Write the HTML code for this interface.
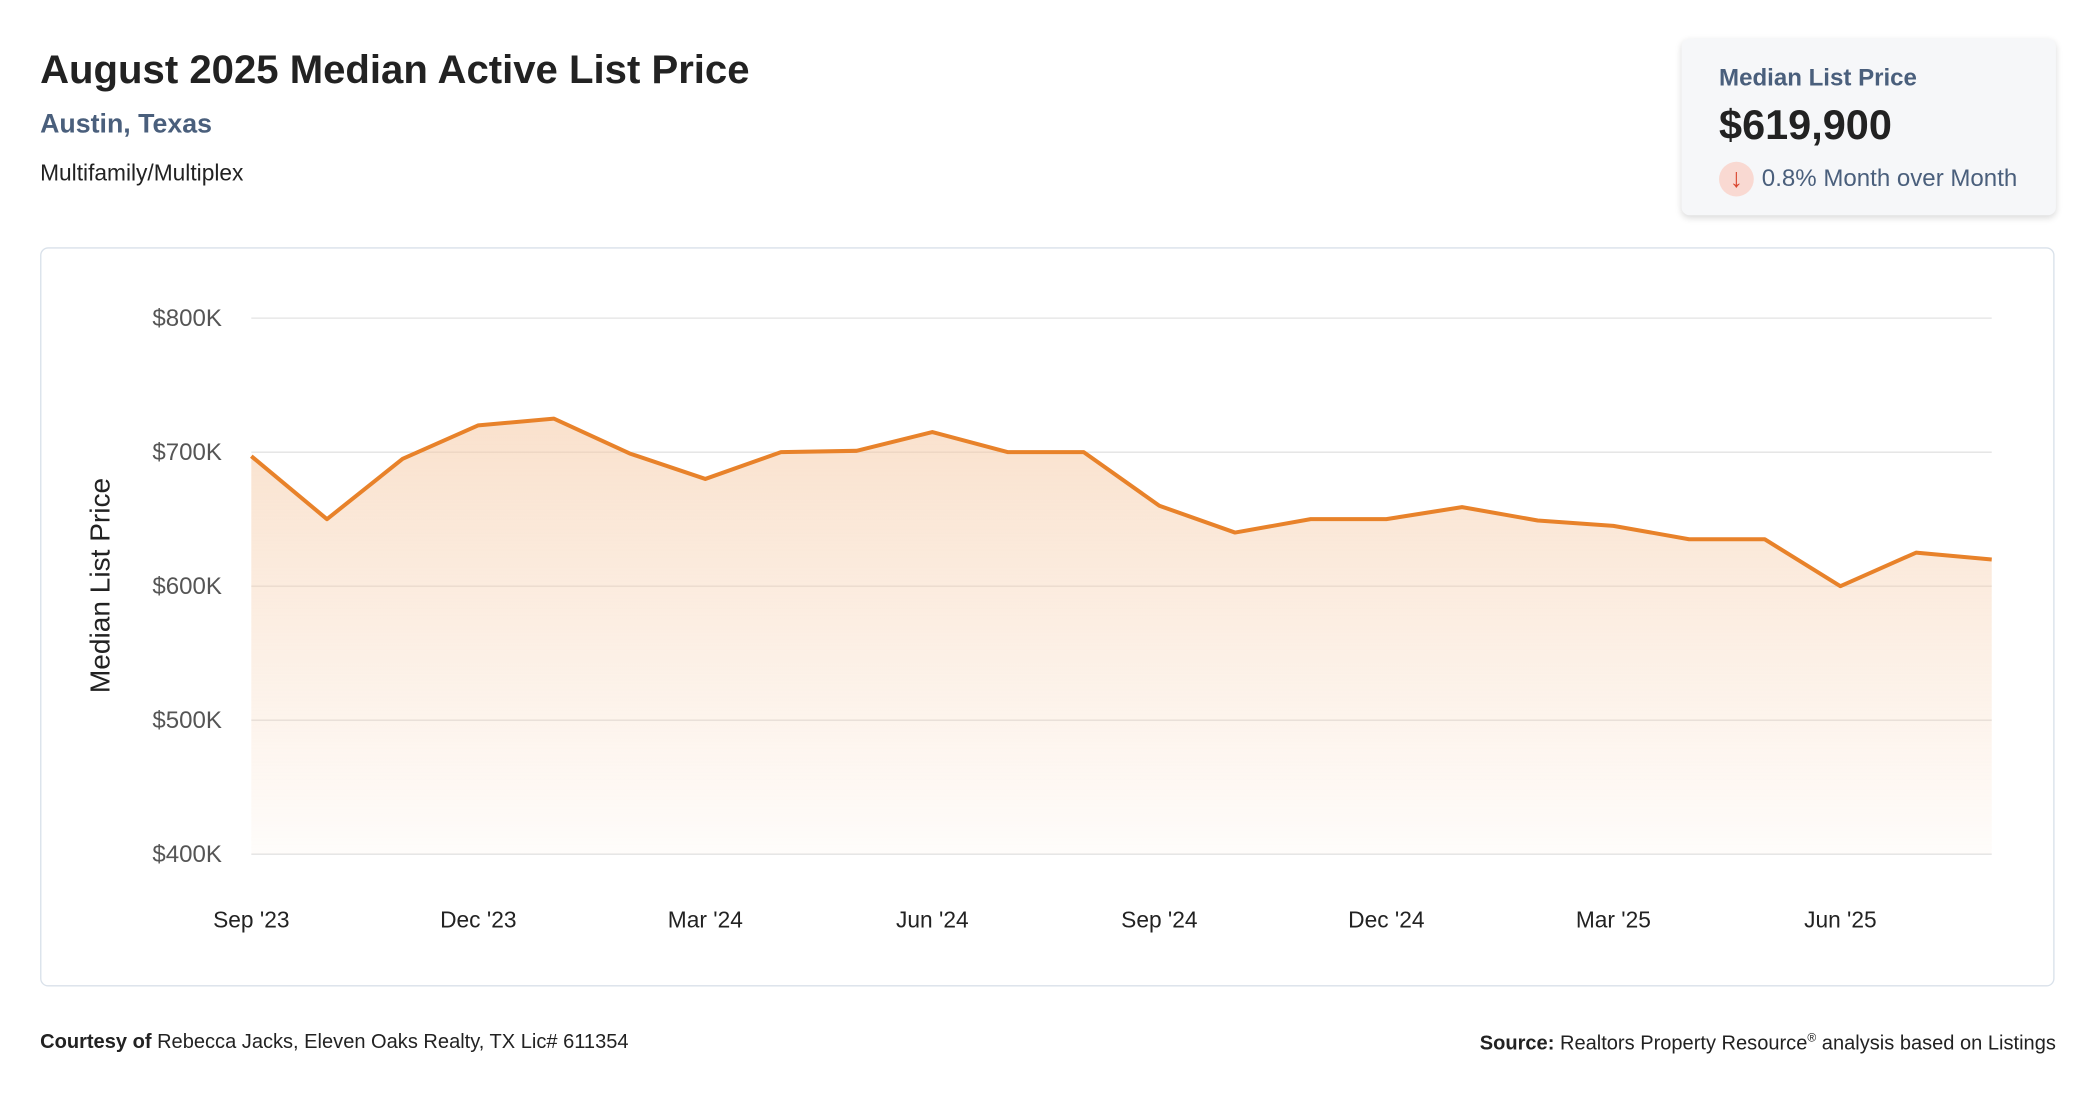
<!DOCTYPE html>
<html><head><meta charset="utf-8">
<style>
html,body{margin:0;padding:0;background:#fff;width:2096px;height:1100px;overflow:hidden}
#wrap{position:absolute;left:0;top:0;width:1568px;height:823px;transform:scale(1.33673);transform-origin:0 0;font-family:"Liberation Sans",sans-serif}
.t{position:absolute;white-space:nowrap}
</style></head><body>
<div id="wrap">
<div class="t" style="left:30px;top:36px;font-size:30px;font-weight:bold;color:#222">August 2025 Median Active List Price</div>
<div class="t" style="left:30px;top:82px;font-size:20px;font-weight:bold;color:#4a5f7c">Austin, Texas</div>
<div class="t" style="left:30px;top:120px;font-size:17px;color:#222">Multifamily/Multiplex</div>
<div style="position:absolute;left:1258px;top:29px;width:280px;height:132px;background:#f6f7f9;border-radius:6px;box-shadow:0 2px 5px rgba(0,0,0,.15)">
<div class="t" style="left:28px;top:19px;font-size:18px;font-weight:bold;color:#4a5f7c">Median List Price</div>
<div class="t" style="left:28px;top:47px;font-size:31px;font-weight:bold;color:#222">$619,900</div>
<div style="position:absolute;left:28px;top:92px;width:26px;height:26px;border-radius:13px;background:#f9d9d2;color:#d9452e;font-size:20px;line-height:26px;text-align:center">↓</div>
<div class="t" style="left:60px;top:94px;font-size:18px;color:#4a5f7c">0.8% Month over Month</div>
</div>
<div style="position:absolute;left:30px;top:185px;width:1505px;height:551px;border:1px solid #d9e1ea;border-radius:6px"></div>
<svg id="chart" width="1568" height="823" style="position:absolute;left:0;top:0">
<defs><linearGradient id="g" x1="0" y1="0" x2="0" y2="1"><stop offset="0" stop-color="#f5c9a4" stop-opacity=".55"/><stop offset="1" stop-color="#f5c9a4" stop-opacity=".05"/></linearGradient></defs>
</svg>
<div class="t" style="left:30px;top:771px;font-size:15px;color:#222"><b>Courtesy of</b> Rebecca Jacks, Eleven Oaks Realty, TX Lic# 611354</div>
<div class="t" style="right:30px;top:771px;font-size:15px;color:#222"><b>Source:</b> Realtors Property Resource<sup style="font-size:9px">®</sup> analysis based on Listings</div>
</div>
<script>
const months=["Sep '23","Oct '23","Nov '23","Dec '23","Jan '24","Feb '24","Mar '24","Apr '24","May '24","Jun '24","Jul '24","Aug '24","Sep '24","Oct '24","Nov '24","Dec '24","Jan '25","Feb '25","Mar '25","Apr '25","May '25","Jun '25","Jul '25","Aug '25"];
const prices=[697,650,695,720,725,699,680,700,701,715,700,700,660,640,650,650,659,649,645,635,635,600,625,619.9];
const yTicks=[400,500,600,700,800];
const yTickLabels=["$400K","$500K","$600K","$700K","$800K"];
const xTickIdx=[0,3,6,9,12,15,18,21];
const svg=document.getElementById('chart');const NS='http://www.w3.org/2000/svg';
const x0=188,x1=1490,y0=639,y1=238;
const X=i=>x0+(x1-x0)*i/(months.length-1);
const Y=v=>y0+(y1-y0)*(v-400)/400;
function mk(t,a){const e=document.createElementNS(NS,t);for(const k in a)e.setAttribute(k,a[k]);svg.appendChild(e);return e;}
yTicks.forEach((v,i)=>{
 const l=mk('line',{x1:x0,x2:x1,y1:Y(v),y2:Y(v),stroke:'#e3e3e3','stroke-width':1});
 
 
 const t=mk('text',{x:166,y:Y(v)+6,'text-anchor':'end','font-size':18,fill:'#555','font-family':'Liberation Sans, sans-serif'});
 t.textContent=yTickLabels[i];
 
 
});
xTickIdx.forEach(i=>{
 const t=mk('text',{x:X(i),y:694,'text-anchor':'middle','font-size':17,fill:'#222','font-family':'Liberation Sans, sans-serif'});
 t.textContent=months[i];
 
 
});
const pts=prices.map((v,i)=>X(i)+','+Y(v)).join(' ');
const a=mk('polygon',{points:x0+','+y0+' '+pts+' '+x1+','+y0,fill:'url(#g)'});


const p=mk('polyline',{points:pts,fill:'none',stroke:'#e8822a','stroke-width':3,'stroke-linejoin':'round'});


const yt=mk('text',{x:0,y:0,'text-anchor':'middle','font-size':21,fill:'#222','font-family':'Liberation Sans, sans-serif',transform:'translate(82,438) rotate(-90)'});
yt.textContent='Median List Price';


</script>
</body></html>
